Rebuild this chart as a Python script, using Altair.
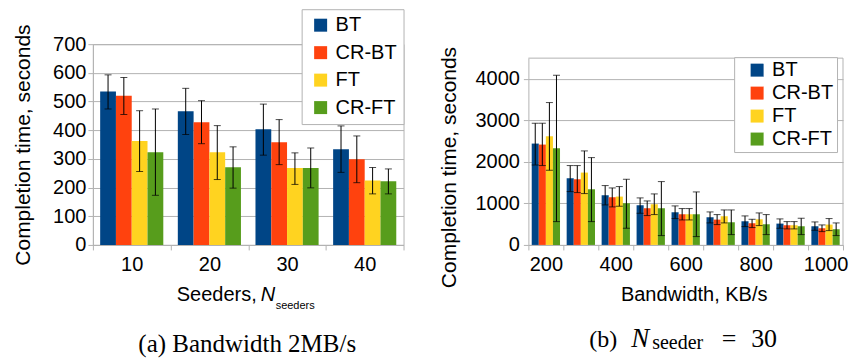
import altair as alt
import pandas as pd

SERIES = ["BT", "CR-BT", "FT", "CR-FT"]
COLORS = ["#004586", "#ff420e", "#ffd320", "#579d1c"]
YTITLE = "Completion time, seconds"

# ---------- (a) Bandwidth 2MB/s ----------
SEEDERS = ["10", "20", "30", "40"]
A_BT = [535, 466, 403, 334]
A_CRBT = [520, 428, 358, 299]
A_FT = [362, 323, 268, 225]
A_CRFT = [323, 271, 268, 222]
A_BT_LO = [474, 385, 313, 253]
A_BT_HI = [593, 546, 491, 415]
A_CRBT_LO = [455, 353, 280, 217]
A_CRBT_HI = [584, 503, 437, 380]
A_FT_LO = [256, 228, 211, 178]
A_FT_HI = [468, 416, 321, 270]
A_CRFT_LO = [173, 198, 199, 178]
A_CRFT_HI = [474, 342, 338, 265]
A_TICKS = [0, 100, 200, 300, 400, 500, 600, 700]

# ---------- (b) N_seeder = 30 ----------
BANDWIDTH = ["200", "300", "400", "500", "600", "700", "800", "900", "1000"]
B_BT = [2442, 1606, 1197, 956, 787, 667, 570, 514, 450]
B_CRBT = [2418, 1582, 1149, 884, 739, 610, 522, 474, 402]
B_FT = [2618, 1743, 1165, 980, 739, 691, 618, 474, 490]
B_CRFT = [2329, 1341, 1004, 884, 739, 546, 498, 450, 378]
B_BT_LO = [1928, 1285, 964, 763, 635, 530, 442, 402, 353]
B_BT_HI = [2932, 1912, 1430, 1133, 940, 795, 699, 627, 554]
B_CRBT_LO = [1912, 1261, 916, 707, 602, 490, 418, 386, 321]
B_CRBT_HI = [2932, 1912, 1373, 1060, 876, 731, 618, 562, 482]
B_FT_LO = [1799, 1237, 932, 731, 602, 530, 466, 386, 345]
B_FT_HI = [3430, 2265, 1406, 1229, 876, 843, 771, 562, 635]
B_CRFT_LO = [562, 562, 402, 225, 201, 249, 249, 249, 225]
B_CRFT_HI = [4088, 2104, 1582, 1526, 1277, 843, 731, 643, 530]
B_TICKS = [0, 1000, 2000, 3000, 4000]
B_MAX = 4500

SANS = "Liberation Sans"
SERIF = "Liberation Serif"
GRAY = "#b3b3b3"


def make_df(cats, means, los, his):
    rows = []
    for s, m_list, lo_list, hi_list in zip(SERIES, means, los, his):
        for c, m, lo, hi in zip(cats, m_list, lo_list, hi_list):
            rows.append(dict(cat=c, series=s, value=m, lo=lo, hi=hi))
    return pd.DataFrame(rows)


df_a = make_df(SEEDERS, [A_BT, A_CRBT, A_FT, A_CRFT],
               [A_BT_LO, A_CRBT_LO, A_FT_LO, A_CRFT_LO],
               [A_BT_HI, A_CRBT_HI, A_FT_HI, A_CRFT_HI])
df_b = make_df(BANDWIDTH, [B_BT, B_CRBT, B_FT, B_CRFT],
               [B_BT_LO, B_CRBT_LO, B_FT_LO, B_CRFT_LO],
               [B_BT_HI, B_CRBT_HI, B_FT_HI, B_CRFT_HI])


def text_mark(txt, x, y, size, font=SANS, style="normal", align="left"):
    return alt.Chart(pd.DataFrame({"t": [txt]})).mark_text(
        align=align, baseline="alphabetic", font=font, fontSize=size,
        fontStyle=style, color="black"
    ).encode(text="t:N", x=alt.value(x), y=alt.value(y))


def bar_layers(df, cats, yscale, pad_outer, xaxis, yaxis, legend):
    X = alt.X("cat:N", sort=cats, scale=alt.Scale(paddingInner=0, paddingOuter=0), axis=xaxis)
    XO = alt.XOffset("series:N", sort=SERIES,
                     scale=alt.Scale(paddingInner=0, paddingOuter=pad_outer))
    base = alt.Chart(df)
    bars = base.mark_bar().encode(
        x=X, xOffset=XO,
        y=alt.Y("value:Q", scale=yscale, axis=yaxis, title=YTITLE),
        color=alt.Color("series:N", sort=SERIES,
                        scale=alt.Scale(domain=SERIES, range=COLORS), legend=legend),
    )
    err = base.mark_rule(color="black", strokeWidth=1).encode(
        x=X, xOffset=XO, y=alt.Y("lo:Q", scale=yscale, axis=yaxis, title=YTITLE), y2="hi:Q")
    cap_hi = base.mark_tick(color="black", size=7, thickness=1).encode(
        x=X, xOffset=XO, y=alt.Y("hi:Q", scale=yscale, axis=yaxis, title=YTITLE))
    cap_lo = base.mark_tick(color="black", size=7, thickness=1).encode(
        x=X, xOffset=XO, y=alt.Y("lo:Q", scale=yscale, axis=yaxis, title=YTITLE))
    return [bars, err, cap_hi, cap_lo]


legend_common = dict(
    orient="none", title=None, strokeColor=GRAY, fillColor="white",
    symbolType="square", symbolSize=169, symbolStrokeWidth=0,
    labelFontSize=20, labelFont=SANS, labelColor="black", labelOffset=5,
)

# ----- left panel -----
WA, HA = 311, 201
left_layers = bar_layers(
    df_a, SEEDERS,
    alt.Scale(domain=[0, 700], nice=False),
    0.46,
    alt.Axis(title=None, labelAngle=0, tickBand="extent", grid=False,
             tickSize=5, labelPadding=5, labelFontSize=20),
    alt.Axis(title=YTITLE, values=A_TICKS, tickCount=8, grid=True, tickSize=5,
             labelFontSize=20, labelOverlap=False, format="d",
             titleFontSize=21, titleX=-63, titleY=100.5, titleAngle=270,
             titleBaseline="alphabetic", titleAlign="center"),
    alt.Legend(legendX=209, legendY=-35, padding=6, rowPadding=7.5, symbolOffset=3,
               labelExpr="(datum.label == 'BT' ? '\u00a0' : '') + datum.label + '\u00a0'",
               **legend_common),
)
left = alt.layer(
    *left_layers,
    text_mark("Seeders,", 84, 257, 20),
    text_mark("N", 168, 257, 20, style="italic"),
    text_mark("seeders", 183, 265, 11),
    text_mark("(a) Bandwidth 2MB/s", 154.5, 308, 25, font=SERIF, align="center"),
).properties(width=WA, height=HA)

# ----- right panel -----
WB, HB = 315, 201
right_layers = bar_layers(
    df_b, BANDWIDTH,
    alt.Scale(domain=[0, B_MAX], nice=False, range=[201, 14]),
    0.47,
    alt.Axis(title="Bandwidth, KB/s", labelAngle=0, tickBand="extent", grid=False,
             tickSize=5, labelPadding=5, labelFontSize=20,
             labelExpr="toNumber(datum.value) % 200 == 0 ? datum.label : ''",
             titleFontSize=20, titleX=165.5, titleY=56, titleBaseline="alphabetic",
             titleAlign="center"),
    alt.Axis(title=YTITLE, values=B_TICKS, grid=True, tickSize=5, labelFontSize=20,
             labelOverlap=False, format="d",
             labelPadding=4, titleFontSize=21, titleX=-73, titleY=123, titleAngle=270,
             titleBaseline="alphabetic", titleAlign="center"),
    alt.Legend(legendX=206, legendY=13, padding=3, rowPadding=3, symbolOffset=10,
               labelExpr="datum.label + '\u00a0\u00a0'", **legend_common),
)
frame_src = pd.DataFrame({"a": [0]})
frame_top = alt.Chart(frame_src).mark_rule(color=GRAY, strokeWidth=1).encode(
    x=alt.value(0), x2=alt.value(WB), y=alt.datum(B_MAX))
frame_right = alt.Chart(frame_src).mark_rule(color=GRAY, strokeWidth=1).encode(
    x=alt.value(WB), y=alt.datum(0), y2=alt.datum(B_MAX))

right = alt.layer(
    frame_top, frame_right,
    *right_layers,
    text_mark("(b)", 61, 303, 24, font=SERIF),
    text_mark("N", 103, 303, 27, font=SERIF, style="italic"),
    text_mark("seeder", 124, 305, 20, font=SERIF),
    text_mark("=", 201, 303, 26, font=SERIF, align="center"),
    text_mark("30", 236, 303, 26, font=SERIF, align="center"),
).properties(width=WB, height=HB, view=alt.ViewBackground(stroke="transparent"))

chart = alt.hconcat(left, right, spacing=33).resolve_scale(
    x="independent", y="independent", color="independent", xOffset="independent"
).resolve_legend(color="independent").properties(
    padding={"left": 4, "top": 0, "right": 4, "bottom": 4}
).configure_view(stroke=GRAY).configure_axis(
    labelFont=SANS, titleFont=SANS, labelColor="black", titleColor="black",
    titleFontWeight="normal", domainColor=GRAY, tickColor=GRAY, gridColor=GRAY,
)

chart.save("out.html", embed_options={"renderer": "svg", "actions": False})
